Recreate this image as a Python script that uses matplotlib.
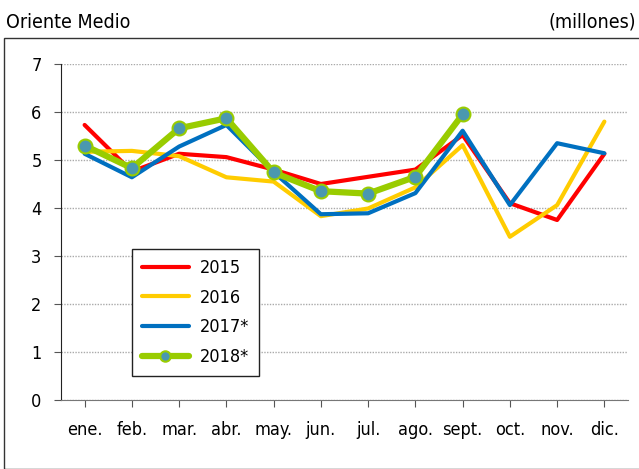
import matplotlib.pyplot as plt
from matplotlib.patches import Rectangle
import numpy as np

plt.rcParams['font.family'] = ['DejaVu Sans']
plt.rcParams['font.stretch'] = 'condensed'

meses = ['ene.', 'feb.', 'mar.', 'abr.', 'may.', 'jun.', 'jul.', 'ago.', 'sept.', 'oct.', 'nov.', 'dic.']
v2015 = [5.73, 4.76, 5.13, 5.06, 4.80, 4.50, 4.65, 4.80, 5.52, 4.10, 3.75, 5.13]
v2016 = [5.17, 5.19, 5.08, 4.64, 4.55, 3.83, 3.99, 4.43, 5.31, 3.40, 4.06, 5.80]
v2017 = [5.13, 4.64, 5.28, 5.73, 4.75, 3.87, 3.89, 4.31, 5.61, 4.06, 5.35, 5.14]
v2018 = [5.30, 4.83, 5.66, 5.87, 4.74, 4.35, 4.30, 4.65, 5.95]

fig = plt.figure(figsize=(6.39, 4.69), dpi=100)
ax = fig.add_axes([61/639, 69/469, 567/639, 336/469])

x = np.arange(len(meses))
ax.plot(x, v2015, color='#ff0000', lw=3, label='2015', solid_capstyle='round')
ax.plot(x, v2016, color='#ffcc00', lw=3, label='2016', solid_capstyle='round')
ax.plot(x, v2017, color='#0070c0', lw=3, label='2017*', solid_capstyle='round')
ax.plot(x[:len(v2018)], v2018, color='#99cc00', lw=4.5, marker='o', ms=10,
        mfc='#4a98b0', mec='#99cc00', mew=1.5, label='2018*', solid_capstyle='round')

ax.set_xlim(-0.5, 11.5)
ax.set_ylim(0, 7)
ax.set_yticks(range(8))
ax.set_xticks(x)
ax.set_xticklabels(meses)
ax.tick_params(labelsize=13, length=5, color='#555555')
ax.tick_params(axis='x', pad=10)
ax.tick_params(axis='y', pad=9)
ax.yaxis.grid(True, linestyle=(0, (1, 1)), color='#aaaaaa', lw=1)
ax.set_axisbelow(True)
for s in ['top', 'right']:
    ax.spines[s].set_visible(False)
ax.spines['left'].set_color('#222222')
ax.spines['bottom'].set_color('#777777')

leg = ax.legend(loc='upper left', bbox_to_anchor=(132/639, 1-249/469),
                bbox_transform=fig.transFigure, borderaxespad=0, fontsize=13,
                handlelength=2.6, handletextpad=0.6, labelspacing=0.65,
                fancybox=False, edgecolor='#222222', framealpha=1,
                borderpad=0.55, markerscale=0.75)
leg.get_frame().set_linewidth(1)

fig.text(6/639, 1-22/469, 'Oriente Medio', fontsize=14, va='center', ha='left')
fig.text(636/639, 1-22/469, '(millones)', fontsize=14, va='center', ha='right')
fig.patches.append(Rectangle((4/639, 0), 1.0, 1-38/469, transform=fig.transFigure,
                             fill=False, edgecolor='#333333', lw=1))

fig.savefig('out.png', dpi=100)
